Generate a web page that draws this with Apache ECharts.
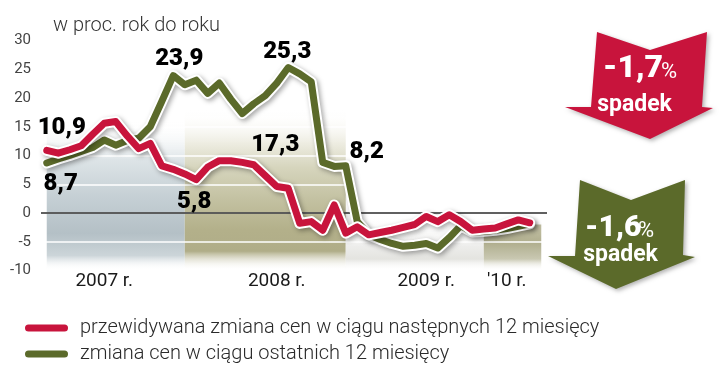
<!DOCTYPE html>
<html><head><meta charset="utf-8">
<script src="https://cdn.jsdelivr.net/npm/echarts@6/dist/echarts.min.js"></script>
<style>html,body{margin:0;padding:0;background:#fff}#c{width:720px;height:370px}</style>
</head><body><div id="c"></div>
<script>
// ---- data ----
const categories = [];
for (let y = 2007; y <= 2010; y++) for (let m = 1; m <= 12; m++) if (categories.length < 44) categories.push(y + '-' + String(m).padStart(2, '0'));

const expectedChange = [10.9, 10.4, 11.0, 11.7, 13.7, 15.6, 15.9, 13.4, 11.2, 12.1,
  8.2, 7.6, 6.8, 5.8, 8.0, 9.1, 9.1, 8.8, 8.4, 6.5,
  4.6, 4.3, -1.8, -1.5, -3.0, 1.4, -3.5, -2.4, -3.8, -3.4,
  -3.0, -2.5, -2.0, -0.6, -1.5, -0.3, -1.5, -3.0, -2.8, -2.6,
  -1.9, -1.2, -1.7];
const pastChange = [8.7, 9.4, 10.0, 10.7, 11.4, 12.7, 11.8, 12.6, 13.0, 15.0,
  19.4, 23.9, 22.3, 23.1, 20.8, 22.6, 19.8, 17.3, 19.0, 20.4,
  22.6, 25.3, 24.2, 22.8, 8.8, 8.1, 8.2, -1.5, -3.8, -4.6,
  -5.3, -5.8, -5.6, -5.3, -6.1, -4.3, -2.2, -3.3, -3.2, -3.0,
  -2.7, -2.3, -1.9];
const yMin = -10, yMax = 30, yStep = 5;
const xTickIndex = [5, 20, 33, 40];
const xTickText = ['2007 r.', '2008 r.', '2009 r.', "'10 r."];
const seriesNames = ['przewidywana zmiana cen w ciągu następnych 12 miesięcy', 'zmiana cen w ciągu ostatnich 12 miesięcy'];
const unitText = 'w proc. rok do roku';
const arrowTexts = [['-1,7', '%', 'spadek'], ['-1,6', '%', 'spadek']];
// annotated points: which series, which index
const annotatedPoints = [['red', 0], ['green', 0], ['green', 11], ['green', 21], ['green', 17], ['red', 13], ['green', 26]];

// ---- styles ----
const RED = '#c8143c', GREEN = '#5b6a2a';
const labelOffsets = [[15, -22], [14, 21], [6, -17], [-1, -16], [33, 31], [-2, 22], [21, -14]];
const FONT = 'Roboto, "Open Sans", sans-serif';
const bySeries = { red: expectedChange, green: pastChange };

function vgrad(stops) {
  return { type: 'linear', x: 0, y: 0, x2: 0, y2: 1, colorStops: stops.map(s => ({ offset: s[0], color: s[1] })) };
}
const panels = [
  [0, 12, 16, -10, vgrad([[0, 'rgba(255,255,255,0)'], [0.26, '#dde4e7'], [0.5, '#c6d0d5'], [0.75, '#b4c0c6'], [0.9, '#ccd5d9'], [1, 'rgba(255,255,255,0)']])],
  [12, 26, 18, -10, vgrad([[0, 'rgba(255,255,255,0)'], [0.2, '#efeee4'], [0.36, '#d6d5bd'], [0.57, '#c2c0a0'], [0.75, '#b3b08a'], [0.88, '#b0ad88'], [1, 'rgba(255,255,255,0)']])],
  [26, 38, 0, -10, vgrad([[0, 'rgba(255,255,255,0)'], [0.6, '#ececea'], [0.8, '#e4e4e0'], [1, 'rgba(255,255,255,0)']])],
  [38, 43, -2, -10, vgrad([[0, '#c4c2a6'], [0.4, '#b0ae8e'], [0.75, '#c9c8b2'], [1, 'rgba(255,255,255,0)']])]
];

const chart = echarts.init(document.getElementById('c'), null, { renderer: 'canvas' });

const lineCommon = { type: 'line', symbol: 'none', silent: true, smooth: false };
function outline(data, z) {
  return Object.assign({}, lineCommon, {
    name: 'outline' + z, data, z,
    lineStyle: { color: '#ffffff', width: 11, cap: 'round', join: 'round', shadowColor: 'rgba(0,0,0,0.35)', shadowBlur: 5, shadowOffsetX: 2, shadowOffsetY: 2 }
  });
}
function colored(name, data, color, z) {
  return Object.assign({}, lineCommon, {
    name, data, z, color, itemStyle: { color },
    lineStyle: { color, width: 7, cap: 'round', join: 'round' }
  });
}

const option = {
  animation: false,
  title: { text: unitText, left: 53, top: 16, padding: 0, textStyle: { fontSize: 20, fontWeight: 300, color: '#333', fontFamily: FONT } },
  grid: { left: 41, right: 173, top: 40.5, bottom: 99.5 },
  legend: {
    left: 20, top: 313, orient: 'vertical', itemWidth: 43, itemHeight: 7, itemGap: 6, selectedMode: false,
    textStyle: { fontSize: 20, lineHeight: 20, fontWeight: 300, color: '#2a2a2a', fontFamily: FONT, padding: [0, 0, 0, 7] },
    data: seriesNames.map(n => ({ name: n, icon: 'path://M3.5 0H39.5A3.5 3.5 0 0 1 39.5 7H3.5A3.5 3.5 0 0 1 3.5 0Z' }))
  },
  xAxis: {
    type: 'category', data: categories, boundaryGap: true,
    axisLine: { show: false }, axisTick: { show: false }, splitLine: { show: false },
    axisLabel: {
      interval: (idx) => xTickIndex.includes(idx),
      formatter: (v, idx) => { const k = xTickIndex.indexOf(idx); return k >= 0 ? xTickText[k] : ''; },
      fontSize: 19, color: '#1a1a1a', fontFamily: FONT, margin: 1
    }
  },
  yAxis: {
    type: 'value', min: yMin, max: yMax, interval: yStep, z: 2,
    axisLine: { show: false }, axisTick: { show: false },
    splitLine: { show: true, lineStyle: { color: '#ffffff', width: 1.5 } },
    axisLabel: { fontSize: 15, color: '#444', fontFamily: FONT, margin: 10, padding: [0, 0, 10, 0] }
  },
  series: [
    Object.assign({}, lineCommon, {
      name: 'panels', data: expectedChange, z: 1, lineStyle: { opacity: 0, width: 0 },
      markArea: {
        silent: true, z: 1,
        data: panels.map(p => [
          { xAxis: categories[p[0]], yAxis: p[2], itemStyle: { color: p[4] } },
          { xAxis: categories[p[1]], yAxis: p[3] }
        ])
      }
    }),
    Object.assign({}, lineCommon, {
      name: 'zero', data: expectedChange, z: 3, lineStyle: { opacity: 0, width: 0 },
      markLine: { silent: true, z: 3, symbol: ['none', 'none'], label: { show: false }, lineStyle: { color: '#2b2b2b', width: 1.5, type: 'solid' }, data: [{ yAxis: 0 }] }
    }),
    outline(pastChange, 6),
    colored(seriesNames[1], pastChange, GREEN, 7),
    outline(expectedChange, 8),
    colored(seriesNames[0], expectedChange, RED, 9),
    {
      type: 'scatter', name: 'labels', silent: true, z: 12, symbolSize: 1,
      itemStyle: { color: 'rgba(0,0,0,0)' },
      label: {
        show: true, position: 'inside', color: '#000', opacity: 1, textBorderWidth: 0, fontSize: 24, fontWeight: 900, fontFamily: FONT,
        formatter: p => String(p.value[1]).replace('.', ',')
      },
      data: annotatedPoints.map((a, k) => ({ value: [a[1], bySeries[a[0]][a[1]]], label: { offset: labelOffsets[k] } }))
    }
  ],
  graphic: [
    { type: 'polygon', silent: true, z: 20,
      shape: { points: [[597, 32], [650, 50], [707, 32], [702, 107], [713, 108], [650, 139], [565, 107], [591, 107]] },
      style: { fill: RED, shadowBlur: 4, shadowColor: 'rgba(0,0,0,0.3)', shadowOffsetX: 2, shadowOffsetY: 2 } },
    { type: 'text', silent: true, z: 21, style: { text: arrowTexts[0][0], x: 603, y: 69, fill: '#fff', font: '900 32px Roboto', align: 'left', verticalAlign: 'middle', textAlign: 'left', textVerticalAlign: 'middle' } },
    { type: 'text', silent: true, z: 21, style: { text: arrowTexts[0][1], x: 661, y: 72, fill: '#fff', font: '400 22px Roboto', align: 'left', verticalAlign: 'middle', textAlign: 'left', textVerticalAlign: 'middle' } },
    { type: 'text', silent: true, z: 21, style: { text: arrowTexts[0][2], x: 634.5, y: 105, fill: '#fff', font: 'bold 23px Roboto', align: 'center', verticalAlign: 'middle', textAlign: 'center', textVerticalAlign: 'middle' } },
    { type: 'polygon', silent: true, z: 20,
      shape: { points: [[580, 180], [631, 200], [685, 180], [683, 255], [695, 257], [616, 289], [548, 256], [575, 256]] },
      style: { fill: GREEN, shadowBlur: 4, shadowColor: 'rgba(0,0,0,0.3)', shadowOffsetX: 2, shadowOffsetY: 2 } },
    { type: 'text', silent: true, z: 21, style: { text: arrowTexts[1][0], x: 585, y: 228, fill: '#fff', font: '900 30px Roboto', align: 'left', verticalAlign: 'middle', textAlign: 'left', textVerticalAlign: 'middle' } },
    { type: 'text', silent: true, z: 21, style: { text: arrowTexts[1][1], x: 638, y: 231, fill: '#fff', font: '400 22px Roboto', align: 'left', verticalAlign: 'middle', textAlign: 'left', textVerticalAlign: 'middle' } },
    { type: 'text', silent: true, z: 21, style: { text: arrowTexts[1][2], x: 620.5, y: 255, fill: '#fff', font: 'bold 23px Roboto', align: 'center', verticalAlign: 'middle', textAlign: 'center', textVerticalAlign: 'middle' } }
  ]
};
chart.setOption(option);
</script></body></html>
